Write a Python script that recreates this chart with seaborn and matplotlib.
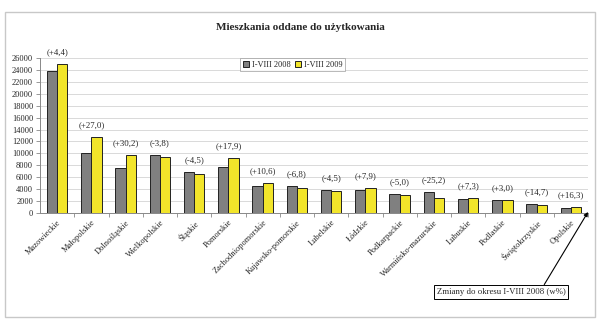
import matplotlib
matplotlib.use("Agg")
import matplotlib.pyplot as plt
import matplotlib.patches as mpatches
import seaborn as sns
import pandas as pd
import numpy as np

regions = ["Mazowieckie", "Małopolskie", "Dolnośląskie", "Wielkopolskie", "Śląskie",
           "Pomorskie", "Zachodniopomorskie", "Kujawsko-pomorskie", "Lubelskie", "Łódzkie",
           "Podkarpackie", "Warmińsko-mazurskie", "Lubuskie", "Podlaskie",
           "Świętokrzyskie", "Opolskie"]
v2008 = [23900, 10000, 7500, 9700, 6900, 7800, 4600, 4500, 3900, 3900, 3200, 3450,
         2300, 2100, 1500, 900]
v2009 = [24950, 12700, 9770, 9330, 6600, 9200, 5090, 4190, 3700, 4210, 3050, 2600,
         2470, 2160, 1280, 1050]
changes = ["(+4,4)", "(+27,0)", "(+30,2)", "(-3,8)", "(-4,5)", "(+17,9)", "(+10,6)",
           "(-6,8)", "(-4,5)", "(+7,9)", "(-5,0)", "(-25,2)", "(+7,3)", "(+3,0)",
           "(-14,7)", "(+16,3)"]
series = ["I-VIII 2008", "I-VIII 2009"]
yticks = list(range(0, 26001, 2000))

df = pd.DataFrame({
    "region": regions * 2,
    "okres": [series[0]] * len(regions) + [series[1]] * len(regions),
    "value": v2008 + v2009,
})

sns.set_theme(style="white")
plt.rcParams["font.family"] = ["Liberation Serif", "DejaVu Serif"]

fig = plt.figure(figsize=(6.0, 3.28), dpi=100)
fig.patch.set_facecolor("white")
# outer frame
fig.add_artist(mpatches.Rectangle((5 / 600, 1 - 317 / 328), 590 / 600, 305 / 328,
                                  transform=fig.transFigure, fill=False,
                                  edgecolor="#c8c8c8", linewidth=1.0))

ax = fig.add_axes([40 / 600, 1 - 213 / 328, 548 / 600, 155 / 328])
palette = {series[0]: "#808080", series[1]: "#f2e52a"}
sns.barplot(data=df, x="region", y="value", hue="okres", hue_order=series,
            order=regions, palette=palette, width=0.6, edgecolor="#222222",
            linewidth=0.7, saturation=1, ax=ax, legend=True)

ax.set_ylim(0, 26000)
ax.set_xlim(-0.5, len(regions) - 0.5)
ax.set_yticks(yticks)
ax.set_yticklabels([str(t) for t in yticks], fontsize=6)
ax.yaxis.grid(True, color="#d9d9d9", linewidth=0.7)
ax.set_axisbelow(True)
ax.set_xlabel("")
ax.set_ylabel("")
for s in ["top", "right"]:
    ax.spines[s].set_visible(False)
ax.spines["left"].set_color("#888888")
ax.spines["bottom"].set_color("#888888")
ax.spines["left"].set_linewidth(0.7)
ax.spines["bottom"].set_linewidth(0.7)
ax.tick_params(axis="y", which="major", length=3, width=0.6, color="#888888", pad=2, left=True)
ax.set_xticks(range(len(regions)))
ax.set_xticklabels(regions, rotation=45, ha="right", rotation_mode="anchor", fontsize=6)
ax.tick_params(axis="x", which="major", length=0, pad=4)
ax.set_xticks(np.arange(0.5, len(regions) - 0.5 + 0.01, 1.0), minor=True)
ax.tick_params(axis="x", which="minor", length=3, width=0.6, color="#888888", bottom=True)

for i, lab in enumerate(changes):
    top = max(v2008[i], v2009[i])
    ax.text(i, top + 1300, lab, ha="center", va="bottom", fontsize=6.3)

leg = ax.legend(loc="upper left", bbox_to_anchor=(200 / 548, 1.0), ncol=2, fontsize=6,
                frameon=True, fancybox=False, edgecolor="#999999", handlelength=0.8,
                handleheight=0.8, handletextpad=0.3, columnspacing=0.5, borderpad=0.3,
                borderaxespad=0.0)
leg.get_frame().set_linewidth(0.6)

fig.text(0.5, 1 - 28 / 328, "Mieszkania oddane do użytkowania", ha="center", va="center",
         fontsize=8, fontweight="bold")

ax.annotate("Zmiany do okresu I-VIII 2008 (w%)", xy=(588 / 600, 1 - 212 / 328),
            xycoords="figure fraction", xytext=(501 / 600, 1 - 292 / 328),
            textcoords="figure fraction", ha="center", va="center", fontsize=6.3,
            bbox=dict(boxstyle="square,pad=0.35", fc="white", ec="black", lw=0.7),
            arrowprops=dict(arrowstyle="-|>", color="black", lw=0.8,
                            shrinkA=0, shrinkB=0, mutation_scale=6,
                            relpos=(0.82, 1.0)))

fig.savefig("out.png", dpi=100)
